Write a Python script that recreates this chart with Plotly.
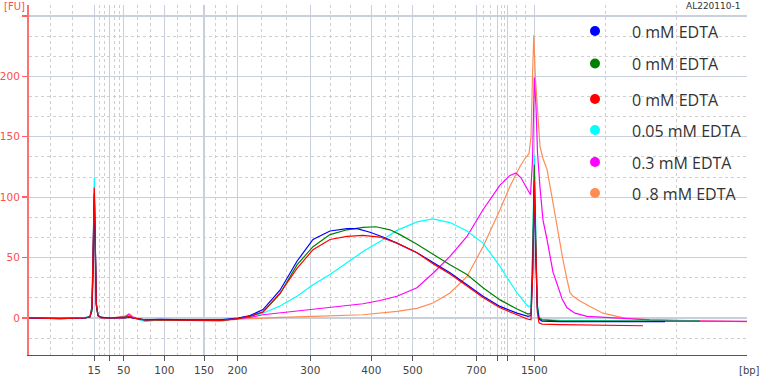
import plotly.graph_objects as go

# Ladder (bp) and their migration times (s)
ladder_bp = [15, 25, 50, 100, 150, 200, 300, 400, 500, 700, 850, 1000, 1500]
ladder_t = [46.53, 48.07, 49.47, 53.53, 57.50, 60.85, 68.13, 74.23, 78.37, 84.73, 86.87, 87.87, 90.53]
labeled_bp = [15, 50, 100, 150, 200, 300, 400, 500, 700, 1500]
t_range = [40.0, 111.8]
fu_ticks = [0, 50, 100, 150, 200, 250]
fu_labels = ["0", "50", "100", "150", "200", ""]

names = ["0 mM EDTA", "0 mM EDTA", "0 mM EDTA", "0.05 mM EDTA", "0.3 mM EDTA", "0 .8 mM EDTA"]
colors = ["#0000FF", "#008000", "#FF0000", "#00FFFF", "#FF00FF", "#FF8C55"]

blue_t = [40.0, 43.1, 45.6, 46.1, 46.3, 46.4, 46.53, 46.63, 46.73, 46.9,
          47.2, 48.1, 49.6, 50.0, 50.4, 51.6, 53.1, 56.1, 59.1, 60.9,
          62.1, 63.4, 65.1, 66.8, 68.4, 70.1, 71.8, 72.8, 74.1, 75.4,
          76.8, 78.8, 80.4, 82.1, 83.8, 85.4, 87.1, 88.8, 89.9, 90.2,
          90.38, 90.53, 90.68, 90.83, 91.0, 91.3, 93.1, 97.1, 100.1, 103.6]
blue_fu = [0, -0.5, 0, 1, 8, 40, 103, 60, 12, 2,
           0.5, 0, 0, 1, 0, -1.5, -1, -1.5, -1.5, 0,
           2, 7, 23, 47, 65, 72, 74, 74, 71, 67,
           62, 54, 46, 37.5, 27.5, 18, 9.6, 4, 1.3, 2,
           40, 110, 50, 8, -1, -2.5, -3, -3, -2.8, -3]

green_t = [40.0, 43.1, 45.6, 46.1, 46.3, 46.4, 46.53, 46.63, 46.73, 46.9,
           47.2, 48.1, 49.6, 50.0, 50.4, 51.6, 53.1, 56.1, 59.1, 60.9,
           62.1, 63.4, 65.1, 66.8, 68.4, 70.1, 71.8, 73.4, 74.7, 76.1,
           77.1, 78.8, 80.4, 82.1, 83.8, 85.4, 87.1, 88.8, 89.9, 90.2,
           90.38, 90.53, 90.68, 90.83, 91.0, 91.3, 93.1, 97.1, 102.1, 107.1]
green_fu = [0, 0, 0, 1, 6, 35, 98, 55, 10, 2,
            0.5, 0, 0.5, 1, 0, -1.5, -1.5, -2, -2, -0.5,
            1.5, 5, 20, 44, 59, 69, 73, 75, 75.5, 73,
            69, 61, 52.5, 44, 36, 25, 15, 7.4, 3.3, 4,
            55, 127, 60, 10, 0, -1.5, -2.5, -2.5, -2.5, -2.5]

red_t = [40.0, 43.1, 45.6, 46.1, 46.3, 46.4, 46.53, 46.63, 46.73, 46.9,
         47.2, 48.1, 49.6, 50.0, 50.4, 51.6, 53.1, 56.1, 59.1, 60.9,
         62.1, 63.4, 65.1, 66.8, 68.4, 70.1, 71.8, 73.4, 75.1, 76.8,
         78.8, 80.4, 82.1, 83.8, 85.4, 87.1, 88.8, 89.9, 90.2, 90.38,
         90.53, 90.68, 90.83, 91.0, 91.3, 93.1, 97.1, 101.4]
red_fu = [0, -0.5, 0, 1, 9, 45, 108, 62, 12, 2,
          0, 0, 0, 1.5, 0, -1.5, -1.5, -2, -2, -0.5,
          1.5, 5, 20.5, 41, 56.5, 65, 67.5, 68.3, 67, 62,
          54, 45, 36.5, 26.5, 17, 8.5, 2.5, -1, -1.4, 40,
          114, 50, 5, -4, -5, -5.5, -6, -6.4]

cyan_t = [40.0, 43.1, 45.6, 46.1, 46.3, 46.4, 46.53, 46.63, 46.73, 46.9,
          47.2, 48.1, 49.6, 50.0, 50.4, 51.6, 53.1, 56.1, 59.1, 60.9,
          62.1, 63.4, 65.1, 66.8, 68.4, 70.1, 71.8, 73.4, 75.1, 76.8,
          78.8, 80.4, 82.1, 83.8, 85.4, 87.1, 88.8, 89.9, 90.2, 90.38,
          90.53, 90.68, 90.83, 91.0, 91.3, 93.1, 97.1, 102.1, 107.1]
cyan_fu = [0, 0, 0.5, 1.5, 10, 50, 116, 65, 12, 2,
           0.5, 0, 0, 1, 0, -2.5, -1.5, -1.5, -1.5, 0,
           1.5, 4, 10, 18, 27.5, 36, 45.5, 55, 63.4, 72.5,
           79.5, 82, 79, 72, 62, 42.7, 20.7, 9.6, 10, 65,
           135, 65, 12, 1, -1, -2, -2.5, -2.5, -2.5]

magenta_t = [40.0, 43.1, 45.6, 46.1, 46.3, 46.4, 46.53, 46.63, 46.73, 46.9,
             47.2, 48.1, 49.6, 50.0, 50.4, 51.6, 53.1, 56.1, 59.1, 60.9,
             62.1, 63.4, 66.1, 68.4, 71.1, 73.4, 75.1, 76.8, 78.8, 80.4,
             82.1, 83.8, 85.4, 87.1, 88.1, 88.7, 89.2, 89.7, 90.15, 90.35,
             90.53, 90.7, 90.85, 91.1, 91.4, 91.8, 92.1, 92.4, 92.9, 93.3,
             93.8, 94.6, 95.8, 99.1, 102.1, 107.1, 111.8]
magenta_fu = [0, 0, 0, 1, 8, 40, 102, 58, 11, 2,
              0.5, 0, 1, 3, 0.5, -2.5, -1.5, -2, -2, -0.5,
              0.5, 2.7, 5, 7, 9.5, 11.8, 14.5, 18, 25, 37,
              51, 67.5, 89.6, 110, 118, 120, 116, 108, 102, 130,
              199, 175, 137, 108, 81, 65, 52, 38, 26, 16,
              8.5, 4, 1.3, 0, -1.5, -2.5, -2.8]

orange_t = [40.0, 43.1, 45.6, 46.1, 46.3, 46.4, 46.53, 46.63, 46.73, 46.9,
            47.2, 48.1, 49.6, 50.0, 50.4, 51.6, 53.1, 56.1, 59.1, 60.9,
            62.1, 65.1, 68.4, 73.4, 76.8, 78.8, 80.4, 82.1, 83.8, 85.4,
            87.1, 88.1, 89.1, 89.6, 90.0, 90.2, 90.35, 90.48, 90.63, 90.78,
            90.95, 91.1, 91.4, 91.8, 92.3, 92.8, 93.1, 93.4, 93.8, 94.1,
            94.4, 95.1, 96.1, 97.4, 98.8, 99.6, 102.1, 107.1, 111.8]
orange_fu = [0, 0, 0, 1, 8, 42, 105, 60, 12, 2,
             0.5, 0, 1.5, 3.5, 1, -2, -1.5, -2, -2.5, -1,
             -0.5, 0.5, 1.3, 2.7, 5.5, 8, 12.4, 20.7, 34.4, 59,
             89.6, 109, 125.4, 132, 136, 150, 200, 234, 200, 178,
             155, 142, 132, 123, 100, 76, 60, 48, 32, 21,
             18, 14, 9.6, 4, 1.3, 0, -1.5, -2.5, -3]

series_t = [blue_t, green_t, red_t, cyan_t, magenta_t, orange_t]
series_fu = [blue_fu, green_fu, red_fu, cyan_fu, magenta_fu, orange_fu]

fig = go.Figure()
draw_order = [5, 4, 3, 1, 0, 2]
for i in draw_order:
    fig.add_trace(go.Scatter(x=series_t[i], y=series_fu[i], mode="lines",
                             line=dict(color=colors[i], width=1.2),
                             name=names[i], showlegend=False, hoverinfo="skip"))

# minor grid: thirds between ladder positions and range ends
bounds = [t_range[0]] + ladder_t + [t_range[1]]
x_minor = []
for a, b in zip(bounds[:-1], bounds[1:]):
    x_minor += [a + (b - a) / 3, a + 2 * (b - a) / 3]
y_minor = [v / 3 * 50 for v in range(-1, 16)]
y_minor = [v for v in y_minor if abs(v % 50) > 1e-6]

tick_text = [str(b) if b in labeled_bp else "" for b in ladder_bp]

fig.update_layout(
    width=770, height=390,
    margin=dict(l=29, r=23, t=5, b=35),
    paper_bgcolor="white", plot_bgcolor="white",
    showlegend=False, hovermode=False,
    xaxis=dict(range=t_range, tickmode="array", tickvals=ladder_t, ticktext=tick_text,
               automargin=False,
               showgrid=True, gridcolor="#C9D0DB", gridwidth=1.3, zeroline=False,
               showline=True, linecolor="#555555", linewidth=1,
               ticks="outside", ticklen=5, tickcolor="#555555",
               tickfont=dict(family="DejaVu Sans", size=10.5, color="#444444"),
               minor=dict(tickmode="array", tickvals=x_minor, showgrid=True,
                          gridcolor="#CFCFCF", griddash="dot", gridwidth=1, ticks="")),
    yaxis=dict(range=[-30.6, 259], tickmode="array", tickvals=fu_ticks, ticktext=fu_labels,
               automargin=False,
               showgrid=True, gridcolor="#C9D0DB", gridwidth=1.3, zeroline=False,
               showline=True, linecolor="#FF7070", linewidth=2,
               ticks="outside", ticklen=5, tickcolor="#FF6060", tickwidth=1.5,
               tickfont=dict(family="DejaVu Sans", size=10.5, color="#FF4D4D"),
               minor=dict(tickmode="array", tickvals=y_minor, showgrid=True,
                          gridcolor="#CFCFCF", griddash="dot", gridwidth=1, ticks="")),
)

# legend (manual)
leg_y = [0.9257, 0.8329, 0.7314, 0.6429, 0.5514, 0.4629]
for name, col, yy in zip(names, colors, leg_y):
    fig.add_shape(type="circle", xref="paper", yref="paper",
                  xsizemode="pixel", ysizemode="pixel",
                  xanchor=0.7883, yanchor=yy, x0=-5, x1=5, y0=-5, y1=5,
                  fillcolor=col, line=dict(width=0))
    fig.add_annotation(x=0.837, y=yy - 0.002, xref="paper", yref="paper",
                       text=name, showarrow=False, xanchor="left", yanchor="middle",
                       font=dict(family="Open Sans", size=16, color="#333333"))

fig.add_annotation(x=-0.0376, y=0.9971, xref="paper", yref="paper", text="[FU]",
                   showarrow=False, xanchor="left", yanchor="middle",
                   font=dict(family="DejaVu Sans", size=10, color="#FF4D4D"))
fig.add_annotation(x=0.9944, y=0.9971, xref="paper", yref="paper", text="AL220110-1",
                   showarrow=False, xanchor="right", yanchor="middle",
                   font=dict(family="DejaVu Sans", size=9, color="#333333"))
fig.add_annotation(x=0.986, y=0, xref="paper", yref="paper", text="[bp]",
                   showarrow=False, xanchor="left", yanchor="top", yshift=-8,
                   font=dict(family="DejaVu Sans", size=10, color="#444444"))

fig.write_html("out.html", config={"displayModeBar": False, "staticPlot": True},
               post_script="document.body.style.margin='0px';")
